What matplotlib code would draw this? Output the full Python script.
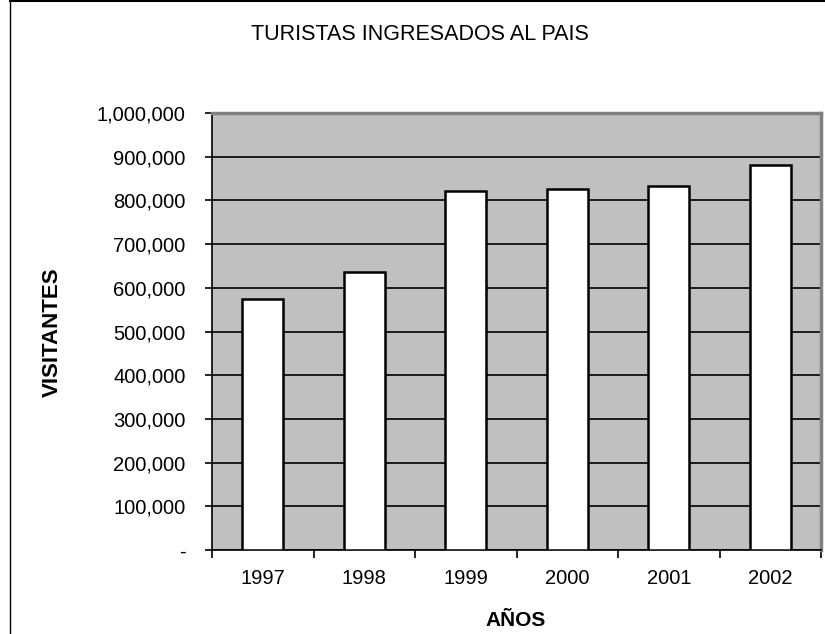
import matplotlib
matplotlib.use('Agg')
import matplotlib.pyplot as plt
from matplotlib.lines import Line2D

plt.rcParams['font.family'] = ['Liberation Sans', 'DejaVu Sans']

# Data
years = ['1997', '1998', '1999', '2000', '2001', '2002']
visitantes = [574000, 636000, 822000, 825000, 833000, 881000]
y_ticks = [0, 100000, 200000, 300000, 400000, 500000,
           600000, 700000, 800000, 900000, 1000000]


def fmt_tick(v):
    # Excel accounting style: zero shown as a dash
    return '-' if v == 0 else f'{v:,.0f}'


fig = plt.figure(figsize=(8.25, 6.34), dpi=100)
ax = fig.add_axes([212 / 825, 1 - 550 / 634, 609 / 825, 437 / 634])

ax.set_facecolor('#C0C0C0')
x = range(len(years))
ax.bar(x, visitantes, width=0.4, color='white', edgecolor='black',
       linewidth=1.8, zorder=3)

ax.set_xlim(-0.5, len(years) - 0.5)
ax.set_ylim(0, 1000000)

# y axis
ax.set_yticks(y_ticks)
ax.set_yticklabels([fmt_tick(v) for v in y_ticks])
ax.yaxis.grid(True, color='black', linewidth=1.2, zorder=1)
ax.tick_params(axis='y', direction='out', length=5, width=1.2,
               pad=14, labelsize=14.5, colors='black')

# x axis: tick marks between categories, labels at centres
ax.set_xticks([i - 0.5 for i in range(len(years) + 1)])
ax.set_xticklabels([])
ax.set_xticks(list(x), minor=True)
ax.set_xticklabels(years, minor=True)
ax.tick_params(axis='x', which='major', direction='out', length=6, width=1.2)
ax.tick_params(axis='x', which='minor', length=0, pad=14, labelsize=14.5)

for side in ['left', 'bottom']:
    ax.spines[side].set_color('black')
    ax.spines[side].set_linewidth(1.2)
for side in ['top', 'right']:
    ax.spines[side].set_color('#808080')
    ax.spines[side].set_linewidth(2.5)

fig.text(420 / 825, 1 - 35 / 634, 'TURISTAS INGRESADOS AL PAIS',
         ha='center', va='center', fontsize=15.5)
fig.text(52 / 825, 1 - 332 / 634, 'VISITANTES', rotation=90,
         ha='center', va='center', fontsize=16, fontweight='bold')
fig.text(516 / 825, 1 - 621 / 634, 'AÑOS',
         ha='center', va='center', fontsize=15, fontweight='bold')

# chart-area frame (left and top edges visible in the original)
fig.add_artist(Line2D([9.5 / 825, 9.5 / 825], [0, 1 - 0.5 / 634],
                      transform=fig.transFigure, color='black', linewidth=1))
fig.add_artist(Line2D([9.5 / 825, 1], [1 - 0.8 / 634, 1 - 0.8 / 634],
                      transform=fig.transFigure, color='black', linewidth=1.5))

fig.savefig('out.png', dpi=100)
